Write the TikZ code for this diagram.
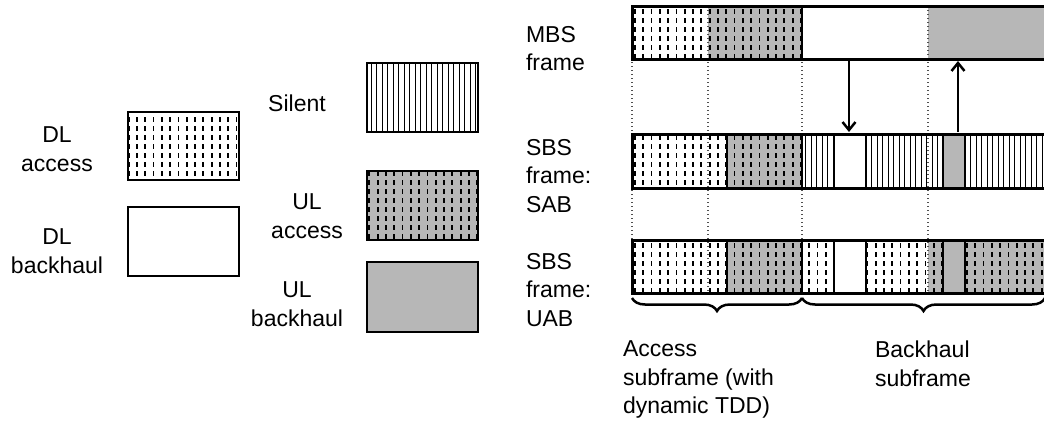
\documentclass[tikz,border=0pt]{standalone}
\usepackage{fontspec}
\setmainfont{Liberation Sans}
\usetikzlibrary{patterns,arrows.meta,decorations.pathreplacing}

\definecolor{ulgray}{RGB}{183,183,183}
\definecolor{dotgray}{RGB}{80,80,80}

% short vertical dashes in rows (access fills)
\pgfdeclarepatternformonly{vdash}{\pgfpoint{-1pt}{-1pt}}{\pgfpoint{9.3pt}{10pt}}{\pgfpoint{8.3pt}{9pt}}{
  \pgfsetlinewidth{1.8pt}
  \pgfpathmoveto{\pgfpoint{4.15pt}{2.3pt}}\pgfpathlineto{\pgfpoint{4.15pt}{6.8pt}}
  \pgfusepath{stroke}}

% thin vertical lines (silent fill)
\pgfdeclarepatternformonly{vlines}{\pgfpoint{0pt}{-1pt}}{\pgfpoint{5.5pt}{6.5pt}}{\pgfpoint{5.5pt}{5.5pt}}{
  \pgfsetlinewidth{1.4pt}
  \pgfpathmoveto{\pgfpoint{2.75pt}{-1pt}}\pgfpathlineto{\pgfpoint{2.75pt}{6.5pt}}
  \pgfusepath{stroke}}

\tikzset{
  lbl/.style={inner sep=0pt, outer sep=0pt, font=\fontsize{23}{28.5}\selectfont},
  box/.style={draw=black, inner sep=0pt, outer sep=0pt, minimum width=111pt},
  dlacc/.style={fill=white, postaction={pattern=vdash, pattern color=black}},
  ulacc/.style={fill=ulgray, postaction={pattern=vdash, pattern color=black}},
  dlbh/.style={fill=white},
  ulbh/.style={fill=ulgray},
  silent/.style={fill=white, postaction={pattern=vlines, pattern color=black}},
  divider/.style={draw=black, line width=1.5pt},
  frameline/.style={draw=black, line width=3pt},
  dotln/.style={draw=dotgray, line width=1.2pt, dash pattern=on 1.4pt off 2.6pt},
  arr/.style={draw=black, line width=2.5pt, -{Straight Barb[length=8pt,width=13pt,line width=2.5pt]}},
  brc/.style={draw=black, line width=2.5pt, decorate,
              decoration={brace, mirror, amplitude=13pt}}
}

\begin{document}
\begin{tikzpicture}[x=1pt, y=-1pt]
\useasboundingbox (0,0) rectangle (1044,421);

% ---------- legend ----------
\node[lbl, align=center, anchor=north] (tDLa) at (57,127) {DL\\access};
\node[lbl, align=center, anchor=north] (tDLb) at (57,229) {DL\\backhaul};
\node[lbl, anchor=north] (tSil) at (297,95) {Silent};
\node[lbl, align=center, anchor=north] (tULa) at (307,194) {UL\\access};
\node[lbl, align=center, anchor=north] (tULb) at (297,282) {UL\\backhaul};

\node[box, dlacc, line width=2pt, minimum height=68pt] (bDLa) at (183.5,146) {};
\node[box, dlbh, line width=1.5pt, minimum height=69pt] (bDLb) at (183.5,241.5) {};
\node[box, silent, line width=1.5pt, minimum height=69pt] (bSil) at (422.5,97.5) {};
\node[box, ulacc, line width=2.8pt, minimum height=69pt] (bULa) at (422.5,205.5) {};
\node[box, ulbh, line width=1.5pt, minimum height=70pt] (bULb) at (422.5,297) {};

% ---------- frame labels ----------
\node[lbl, align=left, anchor=north west] (tMBS) at (526,26) {MBS\\frame};
\node[lbl, align=left, anchor=north west] (tSAB) at (526,139) {SBS\\frame:\\SAB};
\node[lbl, align=left, anchor=north west] (tUAB) at (526,253) {SBS\\frame:\\UAB};
\node[lbl, align=left, anchor=north west] (tAcc) at (623,341) {Access\\subframe (with\\dynamic TDD)};
\node[lbl, align=left, anchor=north west] (tBh) at (875,341) {Backhaul\\subframe};

% ---------- frames ----------
\begin{scope}
\clip (0,0) rectangle (1044,421);
% MBS frame
\path[dlacc] (632,6) rectangle (708,59);
\path[ulacc] (708,6) rectangle (802,59);
\path[dlbh]  (802,6) rectangle (928,59);
\path[ulbh]  (928,6) rectangle (1060,59);
% SBS frame: SAB
\path[dlacc]  (632,134) rectangle (727,188);
\path[ulacc]  (727,134) rectangle (802,188);
\path[silent] (802,134) rectangle (834,188);
\path[dlbh]   (834,134) rectangle (866,188);
\path[silent] (866,134) rectangle (943,188);
\path[ulbh]   (943,134) rectangle (965,188);
\path[silent] (965,134) rectangle (1060,188);
% SBS frame: UAB
\path[dlacc] (632,240) rectangle (727,293);
\path[ulacc] (727,240) rectangle (802,293);
\path[dlacc] (802,240) rectangle (834,293);
\path[dlbh]  (834,240) rectangle (866,293);
\path[dlacc] (866,240) rectangle (928,293);
\path[ulacc] (928,240) rectangle (943,293);
\path[ulbh]  (943,240) rectangle (965,293);
\path[ulacc] (965,240) rectangle (1060,293);

% subframe guide lines
\foreach \x in {632,708,802,928}
  \draw[dotln] (\x,6) -- (\x,293);

% slot dividers
\draw[divider] (802,6) -- (802,59);
\foreach \x in {727,802,834,866,943,965} {
  \draw[divider] (\x,134) -- (\x,188);
  \draw[divider] (\x,240) -- (\x,293);
}

% frame outlines
\draw[frameline] (632,6) rectangle (1060,59);
\draw[frameline] (632,134) rectangle (1060,188);
\draw[frameline] (632,240) rectangle (1060,293);

% ---------- subframe braces ----------
\coordinate (brA) at (632,298);
\coordinate (brB) at (802,298);
\coordinate (brC) at (1045,298);
\draw[brc] (brA) -- (brB);
\draw[brc] (brB) -- (brC);
\end{scope}

% ---------- MBS <-> SBS backhaul links ----------
\coordinate (dnTop) at (849,61);
\coordinate (dnBot) at (849,132);
\coordinate (upBot) at (958,132);
\coordinate (upTop) at (958,61);
\draw[arr] (dnTop) -- (dnBot);
\draw[arr] (upBot) -- (upTop);
\end{tikzpicture}
\end{document}
